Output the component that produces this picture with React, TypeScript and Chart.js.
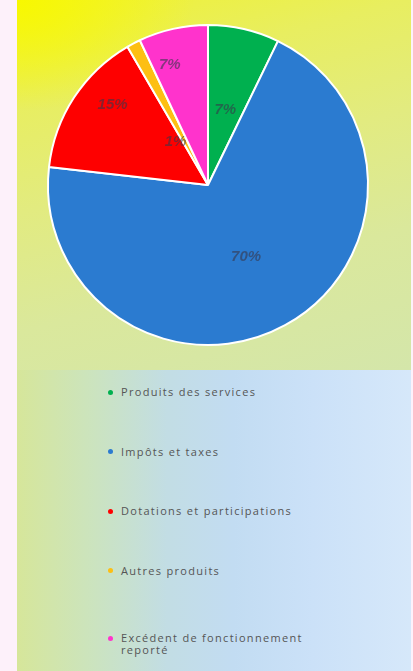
import React, { useEffect, useRef } from "react";
import { Chart, registerables } from "chart.js";

Chart.register(...registerables);

const categories = [
  "Produits des services",
  "Impôts et taxes",
  "Dotations et participations",
  "Autres produits",
  "Excédent de fonctionnement reporté",
];
const shares = [7.2, 69.6, 14.8, 1.4, 7.0];
const sliceColors = ["#00b04f", "#2b7bd0", "#fe0000", "#fdbf13", "#ff33cc"];

// label placement relative to each arc (fraction of radius, angle shift in degrees)
const labelRadius = [0.48, 0.51, 0.78, 0.34, 0.79];
const labelAngleShift = [0, 1, 7, -9, -5];

const labelPlugin = {
  id: "sliceLabels",
  afterDatasetsDraw(chart: any) {
    const ctx = chart.ctx;
    const meta = chart.getDatasetMeta(0);
    const data = chart.data.datasets[0].data as number[];
    const total = data.reduce((a, b) => a + b, 0);
    ctx.save();
    ctx.font = "italic bold 15px 'Liberation Sans', Arial, sans-serif";
    ctx.fillStyle = "rgba(55,55,75,0.6)";
    ctx.textAlign = "center";
    ctx.textBaseline = "middle";
    meta.data.forEach((arc: any, i: number) => {
      const p = arc.getProps(["x", "y", "startAngle", "endAngle", "outerRadius"], true);
      const mid = (p.startAngle + p.endAngle) / 2 + (labelAngleShift[i] * Math.PI) / 180;
      const r = p.outerRadius * labelRadius[i];
      const x = p.x + Math.cos(mid) * r;
      const y = p.y + Math.sin(mid) * r;
      const pct = Math.round((data[i] / total) * 100) + "%";
      ctx.fillText(pct, x, y);
    });
    ctx.restore();
  },
};

function PieChart() {
  const ref = useRef<HTMLCanvasElement | null>(null);
  useEffect(() => {
    if (!ref.current) return;
    const chart = new Chart(ref.current, {
      type: "pie",
      data: {
        labels: categories,
        datasets: [
          {
            data: shares,
            backgroundColor: sliceColors,
            borderColor: "#ffffff",
            borderWidth: 2,
          },
        ],
      },
      options: {
        animation: false,
        responsive: false,
        maintainAspectRatio: false,
        layout: { padding: { top: 24, bottom: 24, left: 0, right: 12 } },
        plugins: {
          legend: { display: false },
          tooltip: { enabled: false },
        },
      },
      plugins: [labelPlugin],
    });
    return () => chart.destroy();
  }, []);
  return <canvas ref={ref} width={394} height={370} style={{ display: "block" }} />;
}

export default function App() {
  return (
    <div
      style={{
        position: "absolute",
        left: 0,
        top: 0,
        width: 413,
        height: 671,
        background: "#fdf1fa",
        overflow: "hidden",
        fontFamily: "'Open Sans', 'Liberation Sans', sans-serif",
      }}
    >
      <div
        style={{
          position: "absolute",
          left: 17,
          top: 0,
          width: 394,
          height: 370,
          background:
            "radial-gradient(ellipse 45% 30% at 0% 0%, rgba(248,248,0,1) 0%, rgba(248,248,0,0.5) 50%, rgba(248,248,0,0) 100%), linear-gradient(165deg, #f0f230 0%, #e8ee60 22%, #e2eb80 45%, #dae8 9c 70%, #d4e6aa 100%)".replace(" 9c", "9c"),
        }}
      >
        <PieChart />
      </div>
      <div
        style={{
          position: "absolute",
          left: 17,
          top: 370,
          width: 394,
          height: 301,
          background:
            "linear-gradient(to right, #d6e69a 0%, #cce4bc 18%, #c2dde4 38%, #c2dcf2 55%, #cbe1f8 75%, #d6e8fa 100%)",
        }}
      >
        <div
          style={{
            position: "absolute",
            left: 91,
            top: 16,
            display: "flex",
            flexDirection: "column",
            gap: 47.5,
          }}
        >
          {categories.map((c, i) => (
            <div
              key={c}
              style={{
                display: "flex",
                alignItems: "flex-start",
                marginTop: i === categories.length - 1 ? 8 : 0,
              }}
            >
              <span
                style={{
                  width: 5,
                  height: 5,
                  borderRadius: "50%",
                  background: sliceColors[i],
                  marginTop: 3.5,
                  marginRight: 8,
                  flex: "none",
                }}
              />
              <span
                style={{
                  fontSize: 11,
                  lineHeight: "12px",
                  letterSpacing: 1.3,
                  color: "#555555",
                  width: 200,
                }}
              >
                {c}
              </span>
            </div>
          ))}
        </div>
      </div>
    </div>
  );
}
